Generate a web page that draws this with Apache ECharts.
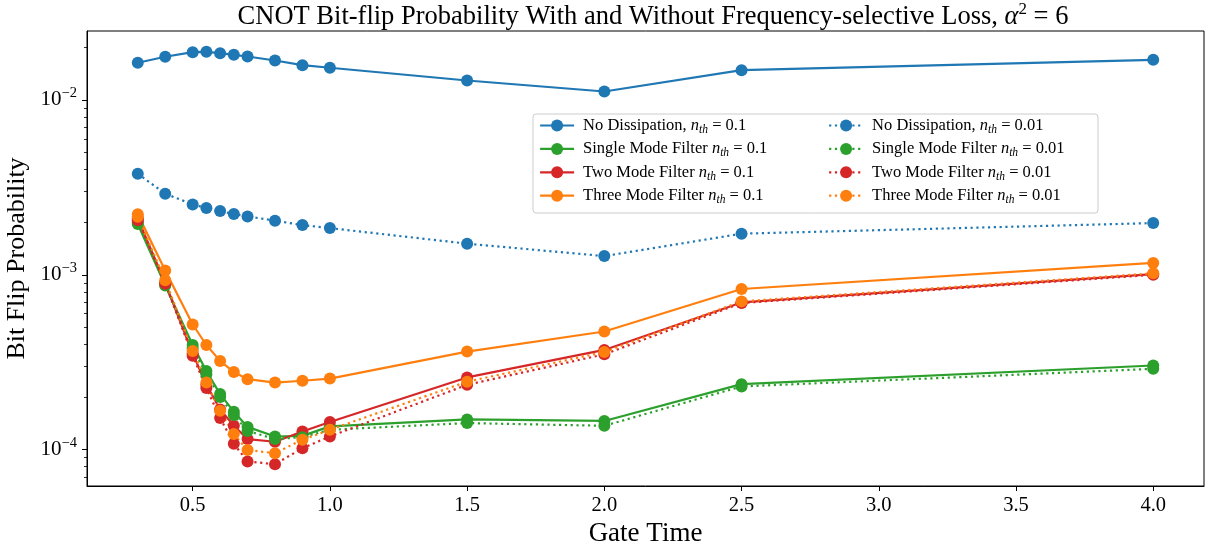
<!DOCTYPE html>
<html>
<head>
<meta charset="utf-8">
<script src="https://cdn.jsdelivr.net/npm/echarts@6/dist/echarts.min.js"></script>
<style>
html,body{margin:0;padding:0;background:#fff;}
#chart{width:1211px;height:548px;}
</style>
</head>
<body>
<div id="chart"></div>
<script>
const gateTimes = [0.3, 0.4, 0.5, 0.55, 0.6, 0.65, 0.7, 0.8, 0.9, 1.0, 1.5, 2.0, 2.5, 4.0];
const noDiss01 = [0.01633, 0.01766, 0.01876, 0.01886, 0.01851, 0.01813, 0.01773, 0.01681, 0.01581, 0.01528, 0.01292, 0.01118, 0.01480, 0.01697];
const single01 = [0.00195, 0.00087, 0.000397, 0.000282, 0.000208, 0.000165, 0.000135, 0.000119, 0.000120, 0.000136, 0.000149, 0.000146, 0.000237, 0.000303];
const two01 = [0.00210, 0.00090, 0.000355, 0.000235, 0.000170, 0.000137, 0.000115, 0.000111, 0.000127, 0.000144, 0.000259, 0.000372, 0.000695, 0.00101];
const three01 = [0.00222, 0.00106, 0.000520, 0.000397, 0.000322, 0.000278, 0.000253, 0.000242, 0.000248, 0.000255, 0.000364, 0.000474, 0.000830, 0.00117];
const noDiss001 = [0.003785, 0.002911, 0.002528, 0.002408, 0.002315, 0.002226, 0.002159, 0.002040, 0.001925, 0.001851, 0.001507, 0.001280, 0.001719, 0.001977];
const single001 = [0.00200, 0.00088, 0.000380, 0.000270, 0.000200, 0.000158, 0.000128, 0.000115, 0.000118, 0.000130, 0.000142, 0.000137, 0.000230, 0.000290];
const two001 = [0.00205, 0.00089, 0.000345, 0.000225, 0.000152, 0.000108, 0.0000857, 0.0000826, 0.000102, 0.000119, 0.000235, 0.000351, 0.000690, 0.00100];
const three001 = [0.00215, 0.00093, 0.000367, 0.000242, 0.000167, 0.000123, 0.0000995, 0.0000955, 0.000114, 0.000130, 0.000245, 0.000362, 0.000705, 0.00102];

const xTicks = [0.5, 1.0, 1.5, 2.0, 2.5, 3.0, 3.5, 4.0];
const yMajorTicks = [1e-4, 1e-3, 1e-2];
const yMinorTicks = [7e-5, 8e-5, 9e-5, 2e-4, 3e-4, 4e-4, 5e-4, 6e-4, 7e-4, 8e-4, 9e-4,
                     2e-3, 3e-3, 4e-3, 5e-3, 6e-3, 7e-3, 8e-3, 9e-3, 2e-2];

const seriesNames = [
  'No Dissipation, n_th = 0.1', 'Single Mode Filter n_th = 0.1', 'Two Mode Filter n_th = 0.1', 'Three Mode Filter n_th = 0.1',
  'No Dissipation, n_th = 0.01', 'Single Mode Filter n_th = 0.01', 'Two Mode Filter n_th = 0.01', 'Three Mode Filter n_th = 0.01'
];
const seriesValues = [noDiss01, single01, two01, three01, noDiss001, single001, two001, three001];
const colors = ['#1f77b4', '#2ca02c', '#d62728', '#ff7f0e', '#1f77b4', '#2ca02c', '#d62728', '#ff7f0e'];

const FONT = 'Liberation Serif';

const series = seriesNames.map((name, i) => ({
  name: name,
  type: 'line',
  data: gateTimes.map((x, j) => [x, seriesValues[i][j]]),
  symbol: 'circle',
  symbolSize: 12,
  showSymbol: true,
  color: colors[i],
  lineStyle: { width: 2.2, color: colors[i], type: i < 4 ? 'solid' : [2.2, 3.6], cap: 'butt' },
  itemStyle: { color: colors[i] },
  emphasis: { disabled: true },
  z: 2
}));

const legendRich = {
  it: { fontFamily: FONT, fontStyle: 'italic', fontSize: 16.5, color: '#000', lineHeight: 21, verticalAlign: 'middle' },
  sub: { fontFamily: FONT, fontStyle: 'italic', fontSize: 11.5, color: '#000', lineHeight: 13, verticalAlign: 'bottom' }
};
function legendFmt(name) {
  return name.replace('n_th', '{it|n}{sub|th}');
}
const legendText = { fontFamily: FONT, fontSize: 16.5, color: '#000', lineHeight: 21, padding: [0, 0, 0, 4], rich: legendRich };

const chart = echarts.init(document.getElementById('chart'), null, { renderer: 'canvas' });
chart.setOption({
  animation: false,
  backgroundColor: '#fff',
  title: {
    text: 'CNOT Bit-flip Probability With and Without Frequency-selective Loss, {it|α}{sup|2} = 6',
    left: 648, top: -4, textAlign: 'center',
    textStyle: {
      fontFamily: FONT, fontSize: 26.5, fontWeight: 'normal', color: '#000',
      rich: {
        it: { fontFamily: FONT, fontStyle: 'italic', fontSize: 26.5, color: '#000' },
        sup: { fontFamily: FONT, fontSize: 17, color: '#000', verticalAlign: 'top', lineHeight: 32 }
      }
    }
  },
  grid: { left: 87, right: 7, top: 31, bottom: 62, show: true, borderColor: '#000', borderWidth: 1,
          backgroundColor: 'transparent', containLabel: false, outerBoundsMode: 'none' },
  graphic: [{
    type: 'rect', z: 3,
    shape: { x: 533, y: 114, width: 565, height: 99, r: 3 },
    style: { fill: 'rgba(255,255,255,0.8)', stroke: '#cccccc', lineWidth: 1 }
  }],
  legend: [
    {
      data: seriesNames.slice(0, 4), orient: 'vertical', left: 539, top: 115, padding: 0,
      itemWidth: 34, itemHeight: 15, itemGap: 2.4, z: 5,
      lineStyle: { width: 2.2 },
      textStyle: legendText, formatter: legendFmt, selectedMode: false
    },
    {
      data: seriesNames.slice(4), orient: 'vertical', left: 828, top: 115, padding: 0,
      itemWidth: 34, itemHeight: 15, itemGap: 2.4, z: 5,
      lineStyle: { width: 2.2 },
      textStyle: legendText, formatter: legendFmt, selectedMode: false
    }
  ],
  xAxis: {
    type: 'value', min: 0.115, max: 4.185,
    name: 'Gate Time', nameLocation: 'middle', nameGap: 31,
    nameTextStyle: { fontFamily: FONT, fontSize: 27, color: '#000' },
    axisLine: { show: true, lineStyle: { color: '#000', width: 1 } },
    axisTick: { show: true, length: 5, lineStyle: { color: '#000', width: 1 }, customValues: xTicks },
    axisLabel: { show: true, margin: 9, fontFamily: FONT, fontSize: 20.5, color: '#000', customValues: xTicks,
      formatter: v => v.toFixed(1) },
    splitLine: { show: false }
  },
  yAxis: [
    {
      type: 'log', logBase: 10, min: 6.2e-5, max: 0.0248,
      name: 'Bit Flip Probability', nameLocation: 'middle', nameGap: 49,
      nameTextStyle: { fontFamily: FONT, fontSize: 26, color: '#000' },
      axisLine: { show: true, lineStyle: { color: '#000', width: 1 } },
      axisTick: { show: true, length: 5, lineStyle: { color: '#000', width: 1 }, customValues: yMajorTicks },
      axisLabel: {
        show: true, margin: 10, fontFamily: FONT, fontSize: 21, color: '#000', customValues: yMajorTicks,
        formatter: v => '10{sup|−' + Math.round(-Math.log10(v)) + '}',
        rich: { sup: { fontFamily: FONT, fontSize: 14.5, color: '#000', verticalAlign: 'top', lineHeight: 28 } }
      },
      splitLine: { show: false }, minorTick: { show: false }
    },
    {
      type: 'log', logBase: 10, min: 6.2e-5, max: 0.0248, position: 'left', offset: 0,
      axisLine: { show: false },
      axisTick: { show: true, length: 3, lineStyle: { color: '#000', width: 0.8 }, customValues: yMinorTicks },
      axisLabel: { show: false },
      splitLine: { show: false }
    }
  ],
  series: series
});
</script>
</body>
</html>
